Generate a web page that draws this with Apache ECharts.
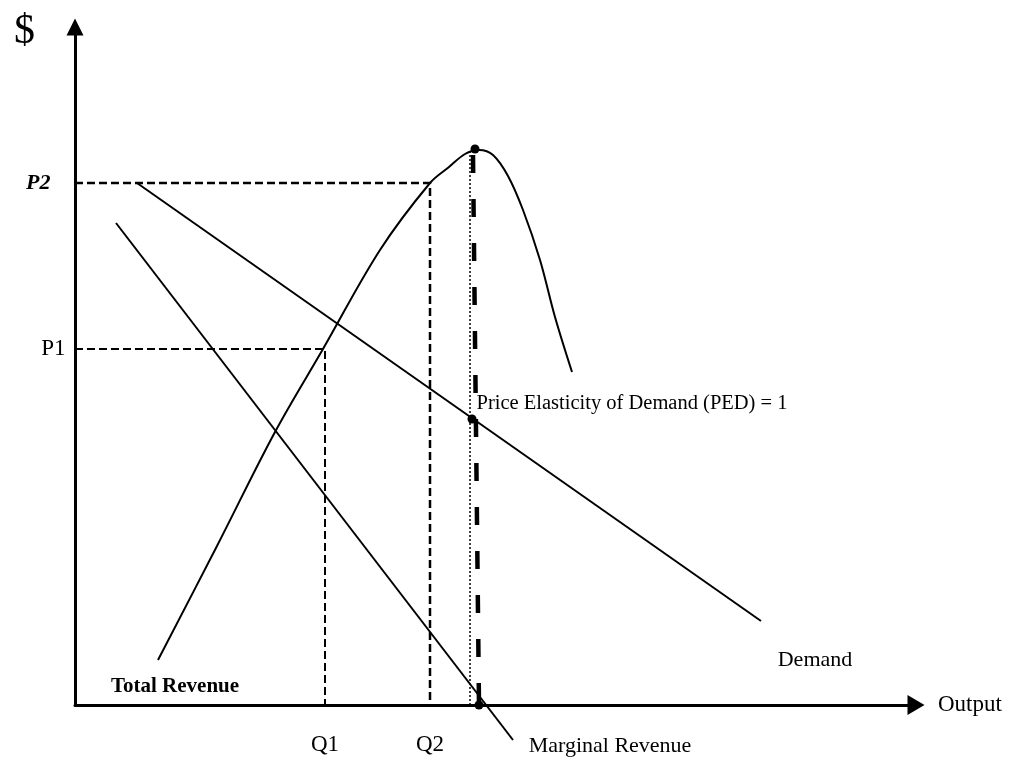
<!DOCTYPE html>
<html>
<head>
<meta charset="utf-8">
<title>Total revenue, demand and marginal revenue</title>
<script src="https://cdn.jsdelivr.net/npm/echarts@6/dist/echarts.min.js"></script>
<style>
  html, body { margin: 0; padding: 0; background: #fff; }
  #chart { width: 1021px; height: 760px; }
</style>
</head>
<body>
<div id="chart"></div>
<script>
// output axis runs 0..84.1, $ axis 0..67.8 (arbitrary units)
const priceNames = ['P1', 'P2'];
const priceLevels = [35.6, 52.2];
const outputNames = ['Q1', 'Q2'];
const outputLevels = [25.0, 35.5];

const demandQ = [6.2, 68.6];
const demandP = [52.2, 8.4];
const mrQ = [4.1, 43.8];
const mrP = [48.2, -3.5];

const trQ = [8.3, 14.2, 20.0, 24.8, 30.5, 35.5, 37.4, 39.0, 40.4, 41.8, 43.3, 44.8, 46.5, 48.0, 49.7];
const trV = [4.5, 15.9, 27.3, 35.6, 45.5, 52.2, 53.8, 55.1, 55.5, 55.0, 52.9, 49.5, 44.5, 38.8, 33.3];

// unit elastic output: dotted guide + hand drawn thick dashes
const unitGuideQ = [39.5, 39.5];
const unitGuideV = [55.4, 0];
const unitDashQ = [39.8, 40.4];
const unitDashV = [55.0, 0];
// dots marked on the sketch: TR peak, PED = 1 on demand, MR = 0
const dotQ = [40.0, 39.7, 40.4];
const dotV = [55.6, 28.6, 0];

const serif = "'Liberation Serif', 'Times New Roman', serif";

const zip = (xs, ys) => xs.map((x, i) => [x, ys[i]]);

const textStyle = (size, extra) => Object.assign({
    show: true,
    color: '#000',
    fontFamily: serif,
    fontSize: size
}, extra || {});

const seriesList = [];

// dashed guides P1/Q1 and P2/Q2
priceLevels.forEach((p, i) => {
    const q = outputLevels[i];
    seriesList.push({
        type: 'line',
        symbol: 'none',
        silent: true,
        lineStyle: { color: '#000', width: i === 1 ? 2.5 : 2, type: [8, 4] },
        data: [[0, p], [q, p], [q, 0]]
    });
});

const demandData = zip(demandQ, demandP);
demandData[demandData.length - 1] = {
    value: demandData[demandData.length - 1],
    label: textStyle(22, { position: 'inside', offset: [54, 39], formatter: 'Demand' })
};
seriesList.push({
    type: 'line',
    symbol: 'circle',
    symbolSize: 1,
    itemStyle: { color: 'transparent' },
    lineStyle: { color: '#000', width: 2 },
    data: demandData
});

const mrData = zip(mrQ, mrP);
mrData[1] = {
    value: mrData[1],
    label: textStyle(22, { position: 'inside', offset: [97, 6], formatter: 'Marginal Revenue' })
};
seriesList.push({
    type: 'line',
    clip: false,
    symbol: 'circle',
    symbolSize: 1,
    itemStyle: { color: 'transparent' },
    lineStyle: { color: '#000', width: 2 },
    data: mrData
});

const trData = zip(trQ, trV);
trData[0] = {
    value: trData[0],
    label: textStyle(21, { position: 'inside', offset: [17, 27], formatter: 'Total Revenue', fontWeight: 'bold' })
};
seriesList.push({
    type: 'line',
    smooth: 0.35,
    symbol: 'circle',
    symbolSize: 1,
    itemStyle: { color: 'transparent' },
    lineStyle: { color: '#000', width: 2 },
    data: trData
});

seriesList.push({
    type: 'line',
    symbol: 'none',
    lineStyle: { color: '#000', width: 1.5, type: [2, 2] },
    data: zip(unitGuideQ, unitGuideV)
});
seriesList.push({
    type: 'line',
    symbol: 'none',
    lineStyle: { color: '#000', width: 4.5, type: [18, 26] },
    data: zip(unitDashQ, unitDashV)
});

const dotData = zip(dotQ, dotV);
dotData[1] = {
    value: dotData[1],
    label: textStyle(20.5, {
        position: 'inside',
        offset: [160, -15],
        formatter: 'Price Elasticity of Demand (PED) = 1'
    })
};
seriesList.push({
    type: 'scatter',
    clip: false,
    symbolSize: 9,
    itemStyle: { color: '#000', opacity: 1 },
    z: 5,
    data: dotData
});

// P / Q labels along the axes
const axisMarks = [];
priceNames.forEach((n, i) => {
    axisMarks.push({
        value: [0, priceLevels[i]],
        label: textStyle(i === 1 ? 22 : 23, {
            position: 'left',
            distance: i === 1 ? 24 : 9,
            formatter: n,
            fontStyle: i === 1 ? 'italic' : 'normal',
            fontWeight: i === 1 ? 'bold' : 'normal'
        })
    });
});
outputNames.forEach((n, i) => {
    axisMarks.push({
        value: [outputLevels[i], 0],
        label: textStyle(23, { position: 'bottom', distance: 28, formatter: n })
    });
});
seriesList.push({
    type: 'scatter',
    clip: false,
    symbolSize: 1,
    itemStyle: { color: 'transparent', opacity: 1 },
    data: axisMarks
});

const chart = echarts.init(document.getElementById('chart'));
chart.setOption({
    animation: false,
    backgroundColor: '#fff',
    title: {
        text: '$',
        left: 9,
        top: 6,
        textStyle: { fontFamily: serif, fontSize: 42, fontWeight: 'normal', color: '#000' }
    },
    grid: { left: 75, right: 105, top: 27, bottom: 55 },
    xAxis: {
        type: 'value',
        min: 0,
        max: 84.1,
        name: 'Output',
        nameLocation: 'end',
        nameGap: 22,
        nameTextStyle: { fontFamily: serif, fontSize: 23, color: '#000' },
        axisLine: {
            lineStyle: { color: '#000', width: 3 },
            symbol: ['none', 'triangle'],
            symbolSize: [20, 17]
        },
        axisTick: { show: false },
        axisLabel: { show: false },
        splitLine: { show: false }
    },
    yAxis: {
        type: 'value',
        min: 0,
        max: 67.8,
        axisLine: {
            lineStyle: { color: '#000', width: 3 },
            symbol: ['none', 'triangle'],
            symbolSize: [17, 17]
        },
        axisTick: { show: false },
        axisLabel: { show: false },
        splitLine: { show: false }
    },
    series: seriesList
});
</script>
</body>
</html>
